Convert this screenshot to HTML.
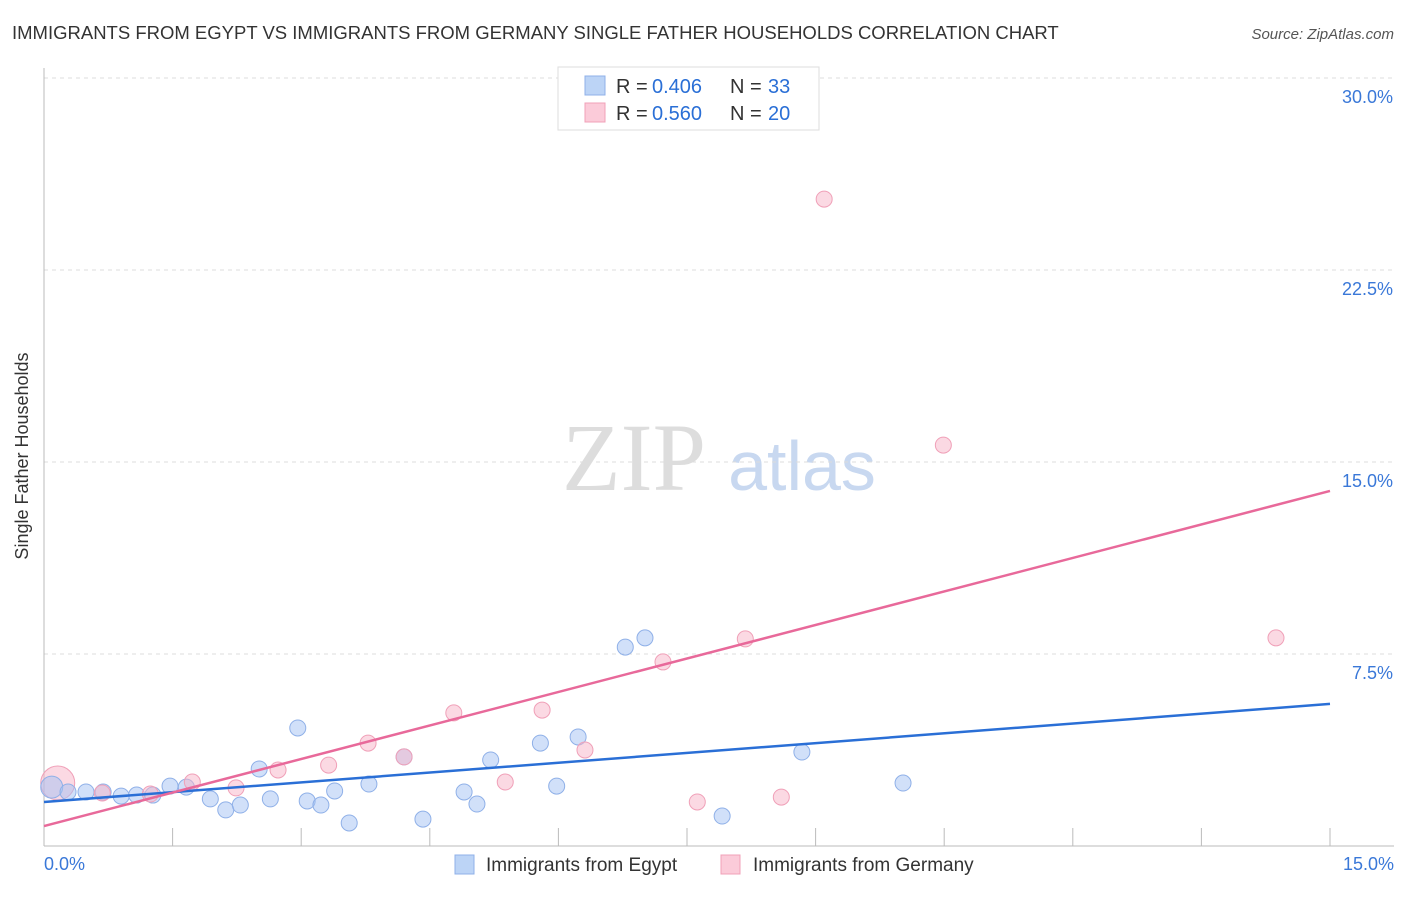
<!DOCTYPE html>
<html><head><meta charset="utf-8"><style>
body{margin:0;background:#fff;font-family:"Liberation Sans",sans-serif;}
svg text{font-family:"Liberation Sans",sans-serif;}
</style></head><body>
<svg id="c" width="1406" height="892">
<text x="12" y="39" font-size="18.5" fill="#333">IMMIGRANTS FROM EGYPT VS IMMIGRANTS FROM GERMANY SINGLE FATHER HOUSEHOLDS CORRELATION CHART</text>
<text x="1394" y="39" font-size="15" fill="#555" font-style="italic" text-anchor="end">Source: ZipAtlas.com</text>
<text x="28" y="456" font-size="18" fill="#333" text-anchor="middle" transform="rotate(-90 28 456)">Single Father Households</text>
<text x="634" y="490" font-size="96" fill="#ddd" style="font-family:'Liberation Serif',serif" text-anchor="middle">ZIP</text>
<text x="802" y="490" font-size="70" fill="#c8d8f0" text-anchor="middle">atlas</text>
<g id="grid"></g><g id="marks"></g>
<g>
<rect x="558" y="67" width="261" height="63" fill="#fff" stroke="#ddd"/>
<rect x="585" y="76" width="20" height="19" fill="#bcd4f6" stroke="#8fb0e8"/>
<text x="616" y="93" font-size="20" fill="#333">R =</text>
<text x="652" y="93" font-size="20" fill="#2a6fd6">0.406</text>
<text x="730" y="93" font-size="20" fill="#333">N =</text>
<text x="768" y="93" font-size="20" fill="#2a6fd6">33</text>
<rect x="585" y="103" width="20" height="19" fill="#fbcbd9" stroke="#f0a0b8"/>
<text x="616" y="120" font-size="20" fill="#333">R =</text>
<text x="652" y="120" font-size="20" fill="#2a6fd6">0.560</text>
<text x="730" y="120" font-size="20" fill="#333">N =</text>
<text x="768" y="120" font-size="20" fill="#2a6fd6">20</text>
</g>
<g>
<rect x="455" y="855" width="19" height="19" fill="#bcd4f6" stroke="#8fb0e8"/>
<text x="486" y="871" font-size="19" fill="#333">Immigrants from Egypt</text>
<rect x="721" y="855" width="19" height="19" fill="#fbcbd9" stroke="#f0a0b8"/>
<text x="753" y="871" font-size="19" fill="#333">Immigrants from Germany</text>
</g>
</svg>
<script>
const egyptX=[0.09,0.28,0.49,0.69,0.90,1.08,1.27,1.47,1.66,1.94,2.12,2.29,2.51,2.64,2.96,3.07,3.23,3.39,3.56,3.79,4.20,4.42,4.90,5.05,5.21,5.79,5.98,6.23,6.78,7.01,7.91,8.84,10.02];
const egyptY=[2.30,2.11,2.11,2.11,1.95,1.99,1.99,2.34,2.30,1.84,1.41,1.60,3.01,1.84,4.61,1.76,1.60,2.15,0.90,2.42,3.48,1.05,2.11,1.64,3.36,4.02,2.34,4.26,7.77,8.13,1.17,3.67,2.46];
const germanyX=[0.16,0.68,1.24,1.73,2.24,2.73,3.32,3.78,4.20,4.78,5.38,5.81,6.31,7.22,7.62,8.18,8.60,9.10,10.49,14.37];
const germanyY=[2.46,2.07,2.03,2.50,2.27,2.97,3.16,4.02,3.48,5.20,2.50,5.31,3.75,7.19,1.72,8.09,1.91,25.27,15.66,8.13];
const egyptTrend=[1.72,5.55];
const germanyTrend=[0.78,13.87];
const yTicks=[7.5,15,22.5,30];
const yTickLabels=["7.5%","15.0%","22.5%","30.0%"];
const xMin=0,xMax=15;
const sx=v=>44+(v-xMin)/(xMax-xMin)*1286;
const sy=v=>846-v/7.5*192;
const NS="http://www.w3.org/2000/svg";
function mk(t,a,p){const e=document.createElementNS(NS,t);for(const k in a)e.setAttribute(k,a[k]);p.appendChild(e);return e;}
const g=document.getElementById('grid'),m=document.getElementById('marks');
yTicks.forEach((t,i)=>{
 const l=mk('line',{x1:44,x2:1394,y1:sy(t),y2:sy(t),stroke:'#ddd','stroke-dasharray':'4,4'},g);
 
 
 const tx=mk('text',{x:1393,y:sy(t)+25,'font-size':18,fill:'#3a78d8','text-anchor':'end'},g);
 tx.textContent=yTickLabels[i];
 
 
});
const ax=mk('line',{x1:44,x2:44,y1:68,y2:846,stroke:'#bbb'},g);


const bx=mk('line',{x1:44,x2:1394,y1:846,y2:846,stroke:'#bbb'},g);


for(let i=1;i<=10;i++){const t=mk('line',{x1:sx(i*1.5),x2:sx(i*1.5),y1:828,y2:846,stroke:'#bbb'},g);
 
 }
const xl0=mk('text',{x:44,y:870,'font-size':18,fill:'#3a78d8'},g);xl0.textContent='0.0%';


const xl1=mk('text',{x:1394,y:870,'font-size':18,fill:'#3a78d8','text-anchor':'end'},g);xl1.textContent='15.0%';


mk('circle',{cx:sx(0.16),cy:sy(2.46),r:17,fill:'rgba(248,180,200,0.5)',stroke:'#f0a0b8'},m);
egyptX.forEach((x,i)=>{const c=mk('circle',{cx:sx(x),cy:sy(egyptY[i]),r:i==0?11:8,fill:'rgba(164,194,244,0.5)',stroke:'#8fb0e8'},m);
 
 });
germanyX.forEach((x,i)=>{if(i==0)return;const c=mk('circle',{cx:sx(x),cy:sy(germanyY[i]),r:8,fill:'rgba(248,180,200,0.5)',stroke:'#f0a0b8'},m);
 
 });
const l1=mk('line',{x1:sx(0),y1:sy(egyptTrend[0]),x2:sx(15),y2:sy(egyptTrend[1]),stroke:'#2a6fd6','stroke-width':2.5},m);


const l2=mk('line',{x1:sx(0),y1:sy(germanyTrend[0]),x2:sx(15),y2:sy(germanyTrend[1]),stroke:'#e8699a','stroke-width':2.5},m);


</script>
</body></html>
